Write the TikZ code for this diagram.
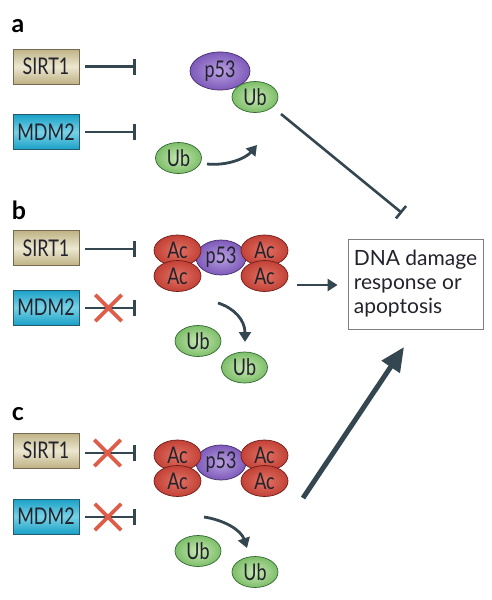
\documentclass[tikz,border=0pt]{standalone}
\usepackage{fontspec}
\setmainfont{Lato}
\newfontfamily\nodefont{Lato}[FakeStretch=0.78]
\usetikzlibrary{shapes.geometric,arrows.meta}
\definecolor{txt}{RGB}{35,35,45}
\definecolor{sirtD}{RGB}{190,178,132}
\definecolor{sirtL}{RGB}{236,231,208}
\definecolor{sirtB}{RGB}{120,105,80}
\definecolor{mdmD}{RGB}{25,160,198}
\definecolor{mdmL}{RGB}{120,210,230}
\definecolor{mdmB}{RGB}{40,90,110}
\definecolor{p53D}{RGB}{125,90,185}
\definecolor{p53L}{RGB}{185,160,225}
\definecolor{p53B}{RGB}{70,45,110}
\definecolor{ubD}{RGB}{125,190,105}
\definecolor{ubL}{RGB}{200,232,180}
\definecolor{ubB}{RGB}{50,105,50}
\definecolor{acD}{RGB}{195,65,55}
\definecolor{acL}{RGB}{225,115,100}
\definecolor{acB}{RGB}{110,30,25}
\definecolor{arr}{RGB}{52,70,80}
\definecolor{xred}{RGB}{222,92,72}
\begin{document}
\begin{tikzpicture}[x=1pt,y=-1pt,
  lbl/.style={font=\fontsize{25}{25}\selectfont\bfseries, text=black, inner sep=0pt},
  protbox/.style={rectangle, minimum width=66pt, minimum height=35pt, inner sep=0pt, draw=#1, line width=0.6pt, font=\nodefont\fontsize{23}{23}\selectfont, text=txt},
  sirt/.style={protbox=sirtB, top color=sirtD, bottom color=sirtD, middle color=sirtL},
  mdm/.style={protbox=mdmB, top color=mdmD, bottom color=mdmD, middle color=mdmL},
  blob/.style={ellipse, inner sep=0pt, line width=0.7pt, font=\nodefont\fontsize{23}{23}\selectfont, text=txt},
  p53a/.style={blob, minimum width=60pt, minimum height=38pt, draw=p53B, inner color=p53L, outer color=p53D},
  p53s/.style={p53a, minimum width=50pt, minimum height=35pt},
  ub/.style={blob, minimum width=46pt, minimum height=31pt, draw=ubB, inner color=ubL, outer color=ubD},
  ac/.style={blob, minimum width=47pt, minimum height=31pt, draw=acB, inner color=acL, outer color=acD},
  inh/.style={draw=arr, line width=2.6pt, -{Bar[width=16pt]}},
  act/.style={draw=arr, line width=2.8pt, -{Triangle[length=10pt,width=12pt]}},
  bigact/.style={draw=arr, line width=5pt, -{Triangle[length=24pt,width=21pt]}},
  xm/.style={minimum size=26pt, inner sep=0pt},
  xline/.style={draw=xred, line width=3.6pt},
  resp/.style={rectangle, draw=gray, line width=0.8pt, minimum width=135pt, minimum height=90pt, align=left, font=\fontsize{21}{24}\selectfont, text=txt}
]
\useasboundingbox (0,0) rectangle (492,600);
\fill[white] (0,0) rectangle (492,600);

% ---------- panel a ----------
\node[lbl] (la) at (18,26) {a};
\node[sirt] (sa) at (46,66.5) {SIRT1};
\node[mdm] (ma) at (46,132) {MDM2};
\coordinate (sae) at (136,66.5);
\coordinate (mae) at (136,132);
\draw[inh, shorten <=6pt] (sa) -- (sae);
\draw[inh, shorten <=6pt] (ma) -- (mae);
\node[p53a] (pa) at (220,71) {p53};
\node[ub] (uba) at (255,97) {Ub};
\node[ub] (ubf) at (178.5,158) {Ub};
\coordinate (ca1) at (207,164);
\coordinate (ca2) at (257,145);
\draw[act] (ca1) .. controls (228,166) and (246,158) .. (ca2);
\coordinate (astart) at (281,114);
\coordinate (aend) at (402,213);
\draw[inh] (astart) -- (aend);

% ---------- response box ----------
\node[resp] (rsp) at (415.5,284) {DNA damage\\response or\\apoptosis};

% ---------- panel b ----------
\node[lbl] (lb) at (19,210) {b};
\node[sirt] (sb) at (46,248) {SIRT1};
\node[mdm] (mb) at (46,307.5) {MDM2};
\coordinate (sbe) at (136,249);
\coordinate (mbe) at (136,308);
\draw[inh, shorten <=6pt] (sb.east |- sbe) -- (sbe);
\draw[inh, shorten <=6pt] (mb.east |- mbe) -- (mbe);
\node[xm] (xb) at (108.5,308) {};
\draw[xline] (xb.north west) -- (xb.south east) (xb.north east) -- (xb.south west);
\node[p53s] (pb) at (221,257.5) {p53};
\node[ac] (acbtl) at (177.5,250.5) {Ac};
\node[ac] (acbtr) at (264.5,250.5) {Ac};
\node[ac] (acbbl) at (177.5,276) {Ac};
\node[ac] (acbbr) at (264.5,276) {Ac};
\coordinate (cb1) at (218,303);
\coordinate (cb2) at (245,342);
\draw[act] (cb1) .. controls (234,308) and (245,320) .. (cb2);
\node[ub] (ubb1) at (198,341) {Ub};
\node[ub] (ubb2) at (244.5,367.5) {Ub};
\coordinate (bst) at (297,285);
\draw[act, shorten >=10pt] (bst) -- (bst -| rsp.west);

% ---------- panel c ----------
\node[lbl] (lc) at (18,414) {c};
\node[sirt] (sc) at (46,450.5) {SIRT1};
\node[mdm] (mc) at (46,516.5) {MDM2};
\coordinate (sce) at (136,453);
\coordinate (mce) at (136,517);
\draw[inh, shorten <=6pt] (sc.east |- sce) -- (sce);
\draw[inh, shorten <=6pt] (mc.east |- mce) -- (mce);
\node[xm] (xc1) at (107.5,453) {};
\draw[xline] (xc1.north west) -- (xc1.south east) (xc1.north east) -- (xc1.south west);
\node[xm] (xc2) at (108,517) {};
\draw[xline] (xc2.north west) -- (xc2.south east) (xc2.north east) -- (xc2.south west);
\node[p53s] (pc) at (221,462.5) {p53};
\node[ac] (acctl) at (177.5,455.5) {Ac};
\node[ac] (acctr) at (264.5,455.5) {Ac};
\node[ac] (accbl) at (177.5,481) {Ac};
\node[ac] (accbr) at (264.5,481) {Ac};
\coordinate (cc1) at (204,517);
\coordinate (cc2) at (247,548);
\draw[act] (cc1) .. controls (224,520) and (241,530) .. (cc2);
\node[ub] (ubc1) at (198,551) {Ub};
\node[ub] (ubc2) at (255,572) {Ub};
\coordinate (bigs) at (303,498);
\coordinate (bige) at (404,347);
\draw[bigact] (bigs) -- (bige);
\end{tikzpicture}
\end{document}
